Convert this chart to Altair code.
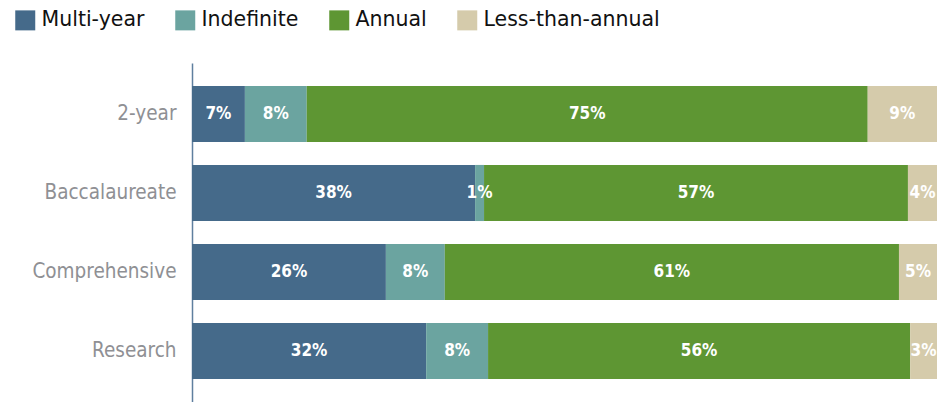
import altair as alt
import pandas as pd

categories = ["2-year", "Baccalaureate", "Comprehensive", "Research"]
series = ["Multi-year", "Indefinite", "Annual", "Less-than-annual"]
# segment shares (percent of each bar)
multi_year = [7.1, 38.0, 26.0, 31.4]
indefinite = [8.3, 1.2, 7.9, 8.3]
annual = [75.3, 56.9, 60.9, 56.6]
less_than_annual = [9.3, 3.9, 5.1, 3.6]
# printed labels
multi_year_lbl = ["7%", "38%", "26%", "32%"]
indefinite_lbl = ["8%", "1%", "8%", "8%"]
annual_lbl = ["75%", "57%", "61%", "56%"]
less_than_annual_lbl = ["9%", "4%", "5%", "3%"]
colors = ["#456a8a", "#6ba4a0", "#5e9633", "#d5cbab"]

COND = "DejaVu Sans Condensed, DejaVu Sans, sans-serif"
REG = "DejaVu Sans, sans-serif"

rows = []
for s_i, (s, vals, lbls) in enumerate(zip(
        series,
        [multi_year, indefinite, annual, less_than_annual],
        [multi_year_lbl, indefinite_lbl, annual_lbl, less_than_annual_lbl])):
    for c, v, l in zip(categories, vals, lbls):
        rows.append({"category": c, "series": s, "value": v, "order": s_i, "label": l})
df = pd.DataFrame(rows)

yenc = alt.Y(
    "category:N",
    sort=categories,
    scale=alt.Scale(paddingInner=0.29, paddingOuter=0.29),
    axis=alt.Axis(
        title=None,
        ticks=False,
        domainColor="#5f7f9f",
        domainWidth=1.5,
        labelColor="#8f9094",
        labelFontSize=20.5,
        labelFont=COND,
        labelPadding=16,
    ),
)

base = (
    alt.Chart(df)
    .transform_stack(
        stack="value",
        as_=["x0", "x1"],
        groupby=["category"],
        sort=[alt.SortField("order", order="ascending")],
        offset="normalize",
    )
    .transform_calculate(mid="(datum.x0 + datum.x1) / 2")
)

bars = base.mark_bar().encode(
    y=yenc,
    x=alt.X("x0:Q", scale=alt.Scale(domain=[0, 1], nice=False), axis=None),
    x2="x1:Q",
    color=alt.Color(
        "series:N",
        scale=alt.Scale(domain=series, range=colors),
        legend=alt.Legend(
            title=None,
            orient="none",
            legendX=-177,
            legendY=-53,
            direction="horizontal",
            symbolType="square",
            symbolSize=400,
            symbolStrokeWidth=0,
            symbolOpacity=1,
            labelFontSize=20.5,
            labelFont=REG,
            labelColor="#111111",
            labelOffset=6,
            labelLimit=0,
            columnPadding=30,
        ),
    ),
)

text = base.mark_text(
    color="white", fontWeight="bold", fontSize=17, font=COND
).encode(
    y=alt.Y("category:N", sort=categories),
    x=alt.X("mid:Q"),
    text="label:N",
)

chart = (
    alt.layer(bars, text)
    .properties(
        width=745,
        height=339,
        autosize=alt.AutoSizeParams(type="none"),
        padding={"left": 184, "top": 55, "right": 1, "bottom": 0},
    )
    .configure_view(stroke=None)
)

chart.save("out.html", embed_options={"renderer": "svg", "actions": False})
